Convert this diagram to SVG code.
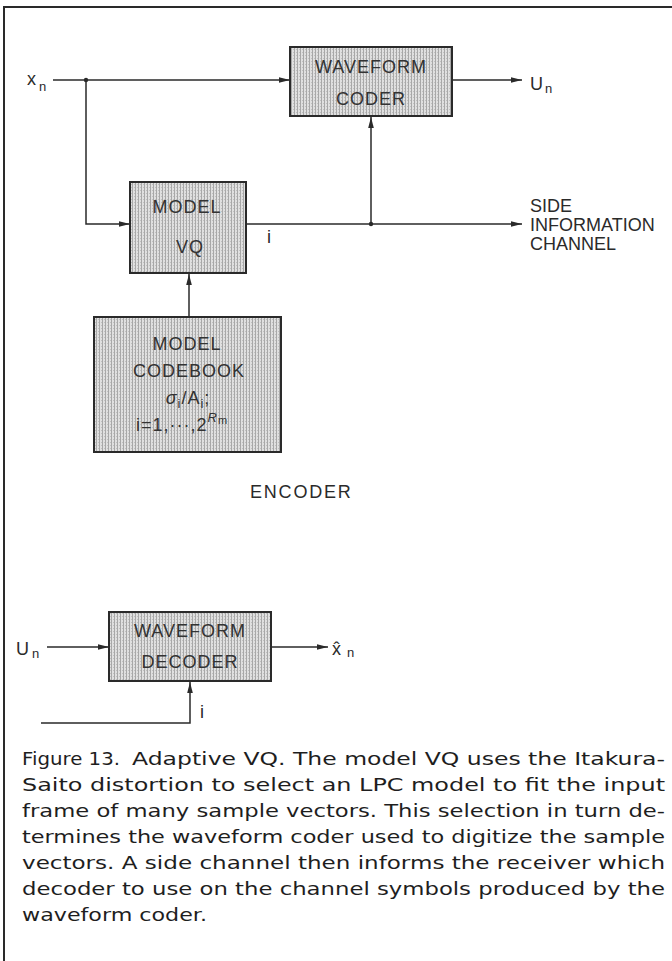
<svg xmlns="http://www.w3.org/2000/svg" width="672" height="961" viewBox="0 0 672 961">
  <defs>
    <pattern id="stipple" width="3" height="3" patternUnits="userSpaceOnUse">
      <rect width="3" height="3" fill="#e0e0e0"/>
      <rect x="0" y="0" width="1" height="3" fill="#a8a8a8"/>
      <rect x="2" y="1" width="1" height="1" fill="#c0c0c0"/>
    </pattern>
    <marker id="arr" markerUnits="userSpaceOnUse" markerWidth="12" markerHeight="8" refX="11" refY="4" orient="auto">
      <path d="M0,1.2 L11,4 L0,6.8 Z" fill="#2a2a2a"/>
    </marker>
  </defs>
  <style>
    .box { fill: url(#stipple); stroke: #2a2a2a; stroke-width: 2; }
    .wire { fill: none; stroke: #2a2a2a; stroke-width: 1.5; }
    .lbl { font-family: "Liberation Sans", Arial, sans-serif; font-size: 18px; fill: #2a2a2a; }
    .blbl { font-family: "Liberation Sans", Arial, sans-serif; font-size: 18px; fill: #333; text-anchor: middle; letter-spacing: 1px; }
    .sub { font-size: 13px; }
    .cap { font-family: "DejaVu Sans", "Liberation Sans", sans-serif; font-size: 18px; fill: #1e1e1e; }
    .dot { fill: #2a2a2a; }
  </style>
  <rect width="672" height="961" fill="#ffffff"/>

  <g id="frame">
    <polyline points="4,961 4,7 672,7" fill="none" stroke="#2a2a2a" stroke-width="2"/>
  </g>

  <g id="connectors">
    <line class="wire" x1="53" y1="80" x2="290" y2="80" marker-end="url(#arr)"/>
    <polyline class="wire" points="86,80 86,224 130,224" marker-end="url(#arr)"/>
    <line class="wire" x1="452" y1="80" x2="522" y2="80" marker-end="url(#arr)"/>
    <line class="wire" x1="246" y1="224" x2="522" y2="224" marker-end="url(#arr)"/>
    <line class="wire" x1="371" y1="224" x2="371" y2="117" marker-end="url(#arr)"/>
    <line class="wire" x1="189" y1="317" x2="189" y2="274" marker-end="url(#arr)"/>
    <circle class="dot" cx="86" cy="80" r="2.2"/>
    <circle class="dot" cx="371" cy="224" r="2.2"/>
    <line class="wire" x1="47" y1="647" x2="109" y2="647" marker-end="url(#arr)"/>
    <line class="wire" x1="271" y1="647" x2="328" y2="647" marker-end="url(#arr)"/>
    <polyline class="wire" points="41,723 190,723 190,682" marker-end="url(#arr)"/>
  </g>

  <g id="waveform-coder">
    <rect class="box" x="290" y="47" width="162" height="69"/>
    <text class="blbl" x="371" y="73">WAVEFORM</text>
    <text class="blbl" x="371" y="105">CODER</text>
  </g>

  <g id="model-vq">
    <rect class="box" x="130" y="182" width="116" height="91"/>
    <text class="blbl" x="187" y="213">MODEL</text>
    <text class="blbl" x="190" y="253">VQ</text>
  </g>

  <g id="model-codebook">
    <rect class="box" x="94" y="317" width="187" height="135"/>
    <text class="blbl" x="187" y="350">MODEL</text>
    <text class="blbl" x="189" y="377">CODEBOOK</text>
    <text class="blbl" x="188" y="404"><tspan font-style="italic">σ</tspan><tspan class="sub" dy="4">i</tspan><tspan dy="-4">/A</tspan><tspan class="sub" dy="4">i</tspan><tspan dy="-4">;</tspan></text>
    <text class="blbl" x="182" y="431">i=1,···,2<tspan class="sub" dy="-9" font-style="italic">R</tspan><tspan font-size="11px" dy="2">m</tspan></text>
  </g>

  <g id="waveform-decoder">
    <rect class="box" x="109" y="612" width="162" height="69"/>
    <text class="blbl" x="190" y="637">WAVEFORM</text>
    <text class="blbl" x="190" y="668">DECODER</text>
  </g>

  <g id="labels">
    <text class="lbl" x="27" y="85">x<tspan class="sub" dx="3" dy="6">n</tspan></text>
    <text class="lbl" x="530" y="90">U<tspan class="sub" dx="2" dy="3">n</tspan></text>
    <text class="lbl" x="267" y="243" font-size="15px">i</text>
    <text class="lbl" x="530" y="212" font-size="19px">SIDE</text>
    <text class="lbl" x="530" y="231" font-size="19px">INFORMATION</text>
    <text class="lbl" x="530" y="250" font-size="19px">CHANNEL</text>
    <text class="lbl" x="250" y="498" letter-spacing="1.8">ENCODER</text>
    <text class="lbl" x="16" y="655">U<tspan class="sub" dx="3" dy="3">n</tspan></text>
    <text class="lbl" x="332" y="655" font-family="DejaVu Sans, sans-serif" font-size="16px">x̂<tspan class="sub" dx="6" dy="2">n</tspan></text>
    <text class="lbl" x="200" y="718" font-size="15px">i</text>
  </g>

  <g id="caption">
    <text class="cap" x="22" y="765" textLength="98" lengthAdjust="spacingAndGlyphs">Figure 13.</text>
    <text class="cap" x="132" y="765" textLength="533" lengthAdjust="spacingAndGlyphs">Adaptive VQ. The model VQ uses the Itakura-</text>
    <text class="cap" x="22" y="791" textLength="643" lengthAdjust="spacingAndGlyphs">Saito distortion to select an LPC model to fit the input</text>
    <text class="cap" x="22" y="817" textLength="643" lengthAdjust="spacingAndGlyphs">frame of many sample vectors. This selection in turn de-</text>
    <text class="cap" x="22" y="843" textLength="643" lengthAdjust="spacingAndGlyphs">termines the waveform coder used to digitize the sample</text>
    <text class="cap" x="22" y="869" textLength="643" lengthAdjust="spacingAndGlyphs">vectors. A side channel then informs the receiver which</text>
    <text class="cap" x="22" y="895" textLength="643" lengthAdjust="spacingAndGlyphs">decoder to use on the channel symbols produced by the</text>
    <text class="cap" x="22" y="921" textLength="185" lengthAdjust="spacingAndGlyphs">waveform coder.</text>
  </g>
</svg>
